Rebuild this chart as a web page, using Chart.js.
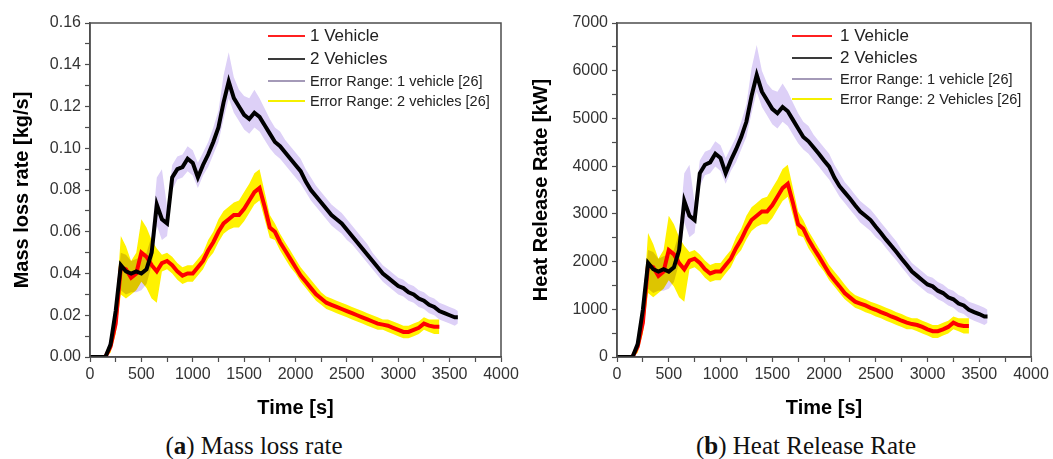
<!DOCTYPE html>
<html>
<head>
<meta charset="utf-8">
<script src="https://cdn.jsdelivr.net/npm/chart.js@4.4.1/dist/chart.umd.min.js"></script>
<style>
  html, body { margin: 0; padding: 0; background: #fff; }
  #page { position: relative; width: 1053px; height: 459px; overflow: hidden; font-family: "Liberation Sans", Arial, sans-serif; }
  canvas { position: absolute; top: 0; }
  #mlr { left: 0; }
  #hrr { left: 527px; }
  .legend { position: absolute; top: 0; color: #222; }
  .legend .row { position: absolute; left: 0; height: 22px; line-height: 22px; white-space: nowrap; display: flex; align-items: center; }
  .legend .sw { display: inline-block; height: 2px; }
  .big { font-size: 17px; }
  .small { font-size: 14.5px; }
  .caption { position: absolute; top: 431px; font-family: "Liberation Serif", "Times New Roman", serif; font-size: 25px; line-height: 30px; transform: translateX(-50%); white-space: nowrap; color: #111; }
</style>
</head>
<body>
<div id="page">
  <canvas id="mlr" width="526" height="425"></canvas>
  <canvas id="hrr" width="526" height="425"></canvas>

  <div class="legend" style="left:268px">
    <div class="row big" style="top:25px"><span class="sw" style="width:37px;margin-right:5px;background:#ff2020"></span>1 Vehicle</div>
    <div class="row big" style="top:47.5px"><span class="sw" style="width:37px;margin-right:5px;background:#3a3a3a"></span>2 Vehicles</div>
    <div class="row small" style="top:69.5px"><span class="sw" style="width:37px;margin-right:5px;background:#a49ab8"></span>Error Range: 1 vehicle [26]</div>
    <div class="row small" style="top:89.5px"><span class="sw" style="width:37px;margin-right:5px;background:#f5f000"></span>Error Range: 2 vehicles [26]</div>
  </div>

  <div class="legend" style="left:792px">
    <div class="row big" style="top:24.7px"><span class="sw" style="width:40px;margin-right:8px;background:#ff2020"></span>1 Vehicle</div>
    <div class="row big" style="top:47.3px"><span class="sw" style="width:40px;margin-right:8px;background:#3a3a3a"></span>2 Vehicles</div>
    <div class="row small" style="top:68px"><span class="sw" style="width:40px;margin-right:8px;background:#a49ab8"></span>Error Range: 1 vehicle [26]</div>
    <div class="row small" style="top:88px"><span class="sw" style="width:40px;margin-right:8px;background:#f5f000"></span>Error Range: 2 Vehicles [26]</div>
  </div>

  <div class="caption" style="left:254px">(<b>a</b>) Mass loss rate</div>
  <div class="caption" style="left:806px">(<b>b</b>) Heat Release Rate</div>
</div>

<script>
// time axis [s]
const time = [0, 50, 100, 150, 200, 250, 300, 350, 400, 450, 500, 550, 600, 650, 700, 750, 800, 850, 900, 950,
  1000, 1050, 1100, 1150, 1200, 1250, 1300, 1350, 1400, 1450, 1500, 1550, 1600, 1650, 1700, 1750, 1800, 1850, 1900, 1950,
  2000, 2050, 2100, 2150, 2200, 2250, 2300, 2350, 2400, 2450, 2500, 2550, 2600, 2650, 2700, 2750, 2800, 2850, 2900, 2950,
  3000, 3050, 3100, 3150, 3200, 3250, 3300, 3350, 3400, 3450, 3500, 3550, 3580];

// (a) mass loss rate [kg/s]
const mlrOne = [0, 0, 0, 0, 0.005, 0.016, 0.043, 0.042, 0.038, 0.040,
  0.050, 0.048, 0.044, 0.041, 0.045, 0.046, 0.044, 0.041, 0.039, 0.040,
  0.040, 0.043, 0.046, 0.051, 0.055, 0.060, 0.064, 0.066, 0.068, 0.068,
  0.071, 0.075, 0.079, 0.081, 0.072, 0.062, 0.060, 0.055, 0.051, 0.047,
  0.043, 0.039, 0.036, 0.033, 0.030, 0.028, 0.026, 0.025, 0.024, 0.023,
  0.022, 0.021, 0.020, 0.019, 0.018, 0.017, 0.016, 0.0155, 0.015, 0.014,
  0.013, 0.012, 0.012, 0.013, 0.014, 0.016, 0.015, 0.0145, 0.0145,
  null, null, null, null];
const mlrTwo = [0, 0, 0, 0, 0.006, 0.022, 0.044, 0.041, 0.040, 0.041,
  0.040, 0.042, 0.050, 0.073, 0.066, 0.064, 0.086, 0.090, 0.091, 0.095,
  0.093, 0.086, 0.092, 0.097, 0.103, 0.110, 0.122, 0.132, 0.124, 0.120,
  0.116, 0.114, 0.117, 0.115, 0.111, 0.107, 0.103, 0.101, 0.098, 0.095,
  0.092, 0.089, 0.084, 0.080, 0.077, 0.074, 0.071, 0.068, 0.066, 0.064,
  0.061, 0.058, 0.055, 0.052, 0.049, 0.046, 0.043, 0.040, 0.038, 0.036,
  0.034, 0.033, 0.031, 0.030, 0.028, 0.027, 0.025, 0.024, 0.022, 0.021,
  0.020, 0.019, 0.019];
const mlrErr1Low = [0, 0, 0, 0, 0.003, 0.018, 0.032, 0.030, 0.031, 0.031,
  0.032, 0.035, 0.044, 0.063, 0.056, 0.058, 0.080, 0.085, 0.086, 0.089,
  0.087, 0.081, 0.087, 0.091, 0.097, 0.103, 0.114, 0.124, 0.117, 0.113,
  0.109, 0.107, 0.110, 0.108, 0.104, 0.100, 0.097, 0.095, 0.092, 0.089,
  0.086, 0.083, 0.079, 0.075, 0.072, 0.069, 0.066, 0.063, 0.061, 0.059,
  0.056, 0.054, 0.051, 0.048, 0.045, 0.042, 0.039, 0.036, 0.034, 0.032,
  0.030, 0.029, 0.027, 0.026, 0.024, 0.023, 0.021, 0.020, 0.018, 0.017,
  0.016, 0.015, 0.016];
const mlrErr1High = [0, 0, 0, 0.001, 0.010, 0.027, 0.050, 0.049, 0.046, 0.047,
  0.048, 0.050, 0.058, 0.086, 0.090, 0.072, 0.092, 0.096, 0.097, 0.101,
  0.099, 0.093, 0.098, 0.103, 0.110, 0.118, 0.135, 0.146, 0.134, 0.128,
  0.125, 0.124, 0.128, 0.124, 0.119, 0.114, 0.110, 0.108, 0.104, 0.101,
  0.098, 0.095, 0.090, 0.086, 0.082, 0.079, 0.076, 0.073, 0.071, 0.069,
  0.066, 0.063, 0.060, 0.057, 0.054, 0.050, 0.047, 0.044, 0.042, 0.040,
  0.038, 0.037, 0.035, 0.034, 0.032, 0.031, 0.029, 0.028, 0.026, 0.025,
  0.024, 0.023, 0.022];
const mlrErr2Low = [0, 0, 0, 0, 0.002, 0.011, 0.030, 0.028, 0.030, 0.032,
  0.036, 0.033, 0.028, 0.026, 0.041, 0.042, 0.040, 0.037, 0.035, 0.036,
  0.036, 0.039, 0.042, 0.047, 0.050, 0.055, 0.059, 0.061, 0.062, 0.062,
  0.065, 0.069, 0.073, 0.075, 0.066, 0.057, 0.056, 0.051, 0.047, 0.043,
  0.040, 0.036, 0.033, 0.030, 0.027, 0.025, 0.023, 0.022, 0.021, 0.020,
  0.019, 0.018, 0.017, 0.016, 0.015, 0.014, 0.013, 0.013, 0.012, 0.011,
  0.010, 0.009, 0.009, 0.010, 0.011, 0.013, 0.012, 0.011, 0.011,
  null, null, null, null];
const mlrErr2High = [0, 0, 0, 0.001, 0.008, 0.022, 0.058, 0.053, 0.046, 0.050,
  0.066, 0.062, 0.056, 0.052, 0.049, 0.050, 0.048, 0.045, 0.043, 0.044,
  0.044, 0.047, 0.050, 0.056, 0.060, 0.066, 0.070, 0.072, 0.074, 0.075,
  0.079, 0.083, 0.088, 0.090, 0.079, 0.068, 0.064, 0.059, 0.055, 0.051,
  0.047, 0.043, 0.040, 0.037, 0.034, 0.031, 0.029, 0.028, 0.027, 0.026,
  0.025, 0.024, 0.023, 0.022, 0.021, 0.020, 0.019, 0.018, 0.018, 0.017,
  0.016, 0.015, 0.015, 0.016, 0.017, 0.019, 0.018, 0.018, 0.018,
  null, null, null, null];

// (b) heat release rate [kW]
const hrrOne = [0, 0, 0, 0, 220, 720, 1930, 1880, 1700, 1790,
  2240, 2150, 1970, 1840, 2020, 2060, 1970, 1840, 1750, 1790,
  1790, 1930, 2060, 2280, 2460, 2690, 2870, 2960, 3050, 3050,
  3180, 3360, 3540, 3630, 3230, 2780, 2690, 2460, 2280, 2110,
  1930, 1750, 1610, 1480, 1340, 1250, 1160, 1120, 1080, 1030,
  990, 940, 900, 850, 810, 760, 720, 690, 670, 630,
  580, 540, 540, 580, 630, 720, 670, 650, 650,
  null, null, null, null];
const hrrTwo = [0, 0, 0, 0, 270, 990, 1970, 1840, 1790, 1840,
  1790, 1880, 2240, 3270, 2960, 2870, 3850, 4030, 4080, 4260,
  4170, 3850, 4120, 4350, 4610, 4930, 5470, 5910, 5560, 5380,
  5200, 5110, 5240, 5150, 4970, 4790, 4610, 4520, 4390, 4260,
  4120, 3990, 3760, 3580, 3450, 3320, 3180, 3050, 2960, 2870,
  2730, 2600, 2460, 2330, 2200, 2060, 1930, 1790, 1700, 1610,
  1520, 1480, 1390, 1340, 1250, 1210, 1120, 1080, 990, 940,
  900, 850, 850];
const hrrErr1Low = [0, 0, 0, 0, 130, 810, 1430, 1340, 1390, 1390,
  1430, 1570, 1970, 2820, 2510, 2600, 3580, 3810, 3850, 3990,
  3900, 3630, 3900, 4080, 4350, 4610, 5110, 5560, 5240, 5060,
  4880, 4790, 4930, 4840, 4660, 4480, 4350, 4260, 4120, 3990,
  3850, 3720, 3540, 3360, 3230, 3090, 2960, 2820, 2730, 2640,
  2510, 2420, 2280, 2150, 2020, 1880, 1750, 1610, 1520, 1430,
  1340, 1300, 1210, 1160, 1080, 1030, 940, 900, 810, 760,
  720, 670, 720];
const hrrErr1High = [0, 0, 0, 40, 450, 1210, 2240, 2200, 2060, 2110,
  2150, 2240, 2600, 3850, 4030, 3230, 4120, 4300, 4350, 4520,
  4440, 4170, 4390, 4610, 4930, 5290, 6050, 6540, 6000, 5730,
  5600, 5560, 5730, 5560, 5330, 5110, 4930, 4840, 4660, 4520,
  4390, 4260, 4030, 3850, 3670, 3540, 3400, 3270, 3180, 3090,
  2960, 2820, 2690, 2550, 2420, 2240, 2110, 1970, 1880, 1790,
  1700, 1660, 1570, 1520, 1430, 1390, 1300, 1250, 1160, 1120,
  1080, 1030, 990];
const hrrErr2Low = [0, 0, 0, 0, 90, 490, 1340, 1250, 1340, 1430,
  1610, 1480, 1250, 1160, 1840, 1880, 1790, 1660, 1570, 1610,
  1610, 1750, 1880, 2110, 2240, 2460, 2640, 2730, 2780, 2780,
  2910, 3090, 3270, 3360, 2960, 2550, 2510, 2280, 2110, 1930,
  1790, 1610, 1480, 1340, 1210, 1120, 1030, 990, 940, 900,
  850, 810, 760, 720, 670, 630, 580, 580, 540, 490,
  450, 400, 400, 450, 490, 580, 540, 490, 490,
  null, null, null, null];
const hrrErr2High = [0, 0, 0, 40, 360, 990, 2600, 2370, 2060, 2240,
  2960, 2780, 2510, 2330, 2200, 2240, 2150, 2020, 1930, 1970,
  1970, 2110, 2240, 2510, 2690, 2960, 3140, 3230, 3320, 3360,
  3540, 3720, 3940, 4030, 3540, 3050, 2870, 2640, 2460, 2280,
  2110, 1930, 1790, 1660, 1520, 1390, 1300, 1250, 1210, 1160,
  1120, 1080, 1030, 990, 940, 900, 850, 810, 810, 760,
  720, 670, 670, 720, 760, 850, 810, 810, 810,
  null, null, null, null];

const FONT = "'Liberation Sans', Arial, sans-serif";
const AXIS = "#4d4d4d";

// yellow band is laid over the lavender one like ink (multiply)
const blendBands = {
  id: "blendBands",
  afterDatasetDraw(chart, args) {
    if (args.index === 3) chart.ctx.globalCompositeOperation = "multiply";
    if (args.index === 2) chart.ctx.globalCompositeOperation = "source-over";
  }
};

const frame = {
  id: "frame",
  afterDraw(chart) {
    const { ctx, chartArea: a } = chart;
    ctx.save();
    ctx.strokeStyle = AXIS;
    ctx.lineWidth = 1.5;
    ctx.strokeRect(a.left, a.top, a.right - a.left, a.bottom - a.top);
    ctx.restore();
  }
};

function line(label, data, color) {
  return { label, data, borderColor: color, borderWidth: 4, pointRadius: 0, fill: false, tension: 0 };
}

function band(label, data, color, fill) {
  return { label, data, borderColor: "rgba(0,0,0,0)", borderWidth: 0, backgroundColor: color, pointRadius: 0, fill, tension: 0 };
}

function createPanel(canvas, p) {
  return new Chart(canvas.getContext("2d"), {
    type: "line",
    data: {
      labels: time,
      datasets: [
        line("2 Vehicles", p.two, "#000000"),
        line("1 Vehicle", p.one, "#ff0000"),
        band("Error Range: 2 vehicles [26]", p.err2High, "#fff200", "+1"),
        band("", p.err2Low, "#fff200", false),
        band("Error Range: 1 vehicle [26]", p.err1High, "#ddd0f7", "+1"),
        band("", p.err1Low, "#ddd0f7", false)
      ]
    },
    options: {
      responsive: false,
      animation: false,
      devicePixelRatio: 1,
      layout: { padding: { left: 0, right: p.rightPad, top: 23, bottom: 0 } },
      plugins: { legend: { display: false }, tooltip: { enabled: false } },
      scales: {
        x: {
          type: "linear",
          min: 0,
          max: 4000,
          ticks: {
            stepSize: 250,
            maxTicksLimit: 100,
            autoSkip: false,
            maxRotation: 0,
            padding: 3,
            color: "#333",
            font: { family: FONT, size: 16 },
            callback: v => (v % 500 === 0 ? String(v) : "")
          },
          grid: { drawOnChartArea: false, drawTicks: true, tickLength: 5, color: AXIS, tickWidth: 1.2 },
          border: { display: true, color: AXIS, width: 1.5 },
          title: { display: true, text: "Time [s]", color: "#000", font: { family: FONT, size: 20, weight: "bold" }, padding: { top: 0, bottom: 5 } },
          afterFit(scale) { scale.height = 68; }
        },
        y: {
          min: 0,
          max: p.yMax,
          ticks: {
            stepSize: p.yStep,
            maxTicksLimit: 100,
            autoSkip: false,
            padding: 4,
            color: "#333",
            font: { family: FONT, size: 16 },
            callback: p.yLabel
          },
          grid: { drawOnChartArea: false, drawTicks: true, tickLength: 5, color: AXIS, tickWidth: 1.2 },
          border: { display: true, color: AXIS, width: 1.5 },
          title: { display: true, text: p.yTitle, color: "#000", font: { family: FONT, size: 20, weight: "bold" }, padding: { top: p.titlePad, bottom: 0 } },
          afterFit(scale) { scale.width = 90; }
        }
      }
    },
    plugins: [blendBands, frame]
  });
}

createPanel(document.getElementById("mlr"), {
  one: mlrOne, two: mlrTwo,
  err1Low: mlrErr1Low, err1High: mlrErr1High,
  err2Low: mlrErr2Low, err2High: mlrErr2High,
  yMax: 0.16, yStep: 0.01,
  yLabel: v => (Math.round(v * 100) % 2 === 0 ? v.toFixed(2) : ""),
  yTitle: "Mass loss rate [kg/s]",
  rightPad: 25, titlePad: 10
});

createPanel(document.getElementById("hrr"), {
  one: hrrOne, two: hrrTwo,
  err1Low: hrrErr1Low, err1High: hrrErr1High,
  err2Low: hrrErr2Low, err2High: hrrErr2High,
  yMax: 7000, yStep: 500,
  yLabel: v => (Math.round(v) % 1000 === 0 ? String(Math.round(v)) : ""),
  yTitle: "Heat Release Rate [kW]",
  rightPad: 22, titlePad: 2
});
</script>
</body>
</html>
